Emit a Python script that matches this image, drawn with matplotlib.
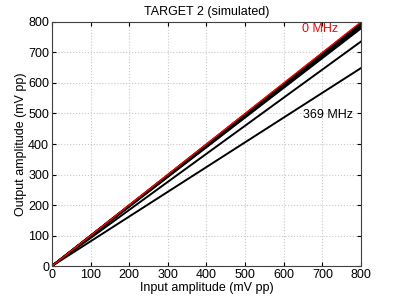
import numpy as np
import matplotlib
matplotlib.use('Agg')
import matplotlib.pyplot as plt

plt.rcParams['font.family'] = ['Liberation Sans', 'DejaVu Sans']

# амплитуды входа, мВ
input_amp = [0, 800]
# выходные амплитуды на 800 мВ для разных частот
out_red = [0, 800]
out_black = [
    [0, 797],
    [0, 794],
    [0, 791],
    [0, 788],
    [0, 785],
    [0, 782],
    [0, 779],
    [0, 736],
    [0, 649],
]

fig = plt.figure(figsize=(3.99, 3.0), dpi=100)
ax = fig.add_axes([0.130, 0.113, 0.775, 0.814])

for y in out_black:
    ax.plot(input_amp, y, 'k-', lw=1.4)
ax.plot(input_amp, out_red, 'r-', lw=1.0)

ax.text(740, 778, '0 MHz', color='red', fontsize=9, ha='right', va='center')
ax.text(780, 496, '369 MHz', color='black', fontsize=9, ha='right', va='center')

ax.set_xlim(0, 800)
ax.set_ylim(0, 800)
ax.set_xticks(np.arange(0, 801, 100))
ax.set_yticks(np.arange(0, 801, 100))
ax.tick_params(direction='in', length=3, labelsize=9, top=True, right=True, pad=2)
for s in ax.spines.values():
    s.set_color('#404040')
ax.grid(True, linestyle=':', color='#c8c8c8', lw=0.8)
ax.set_title('TARGET 2 (simulated)', fontsize=9, pad=5)
ax.set_xlabel('Input amplitude (mV pp)', fontsize=9, labelpad=1)
ax.set_ylabel('Output amplitude (mV pp)', fontsize=9, labelpad=1)

fig.savefig('out.png', dpi=100)
